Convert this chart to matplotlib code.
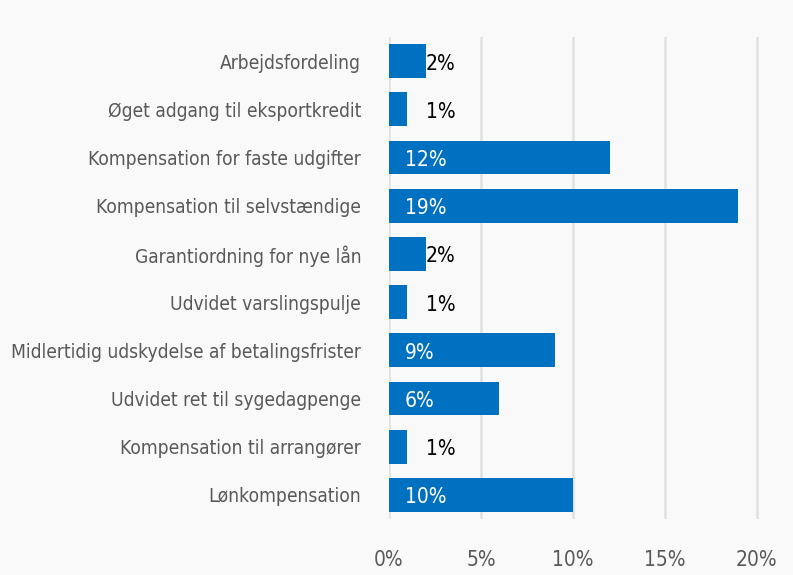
import numpy as np
import matplotlib.pyplot as plt

categories = ['Arbejdsfordeling', 'Øget adgang til eksportkredit', 'Kompensation for faste udgifter',
              'Kompensation til selvstændige', 'Garantiordning for nye lån', 'Udvidet varslingspulje',
              'Midlertidig udskydelse af betalingsfrister', 'Udvidet ret til sygedagpenge',
              'Kompensation til arrangører', 'Lønkompensation']
values = [2, 1, 12, 19, 2, 1, 9, 6, 1, 10]
ticks = [0, 5, 10, 15, 20]
tick_labels = ['0%', '5%', '10%', '15%', '20%']

fam = ['Liberation Sans Narrow', 'DejaVu Sans']
plt.rcParams['font.family'] = fam
plt.rcParams['font.stretch'] = 'condensed'

fig = plt.figure(figsize=(7.93, 5.75), dpi=100, facecolor='#f9f9f9')
ax = fig.add_axes([389/793, 1-519/575, (790-389)/793, (519-37)/575])
ax.set_facecolor('none')

y = np.arange(len(categories))
ax.barh(y, values, height=0.7, color='#0070C0', zorder=2)

for i, v in enumerate(values):
    if v >= 5:
        ax.text(0.85, i + 0.05, f'{v}%', va='center', ha='left', color='white', fontsize=15, zorder=3)
    else:
        ax.text(2.0, i + 0.05, f'{v}%', va='center', ha='left', color='black', fontsize=15, zorder=3)

ax.set_xlim(0, 21.8)
ax.set_ylim(len(categories)-0.5, -0.5)
ax.set_xticks(ticks)
ax.set_xticklabels(tick_labels, fontsize=15)
ax.set_yticks(y)
ax.set_yticklabels(categories, fontsize=13.8)
ax.tick_params(axis='both', length=0, labelcolor='#595959')
ax.tick_params(axis='x', pad=22)
ax.tick_params(axis='y', pad=20)
ax.grid(axis='x', color='#e0e0e0', linewidth=1.8, zorder=0)
for s in ax.spines.values():
    s.set_visible(False)

fig.savefig('out.png', dpi=100, facecolor=fig.get_facecolor())
